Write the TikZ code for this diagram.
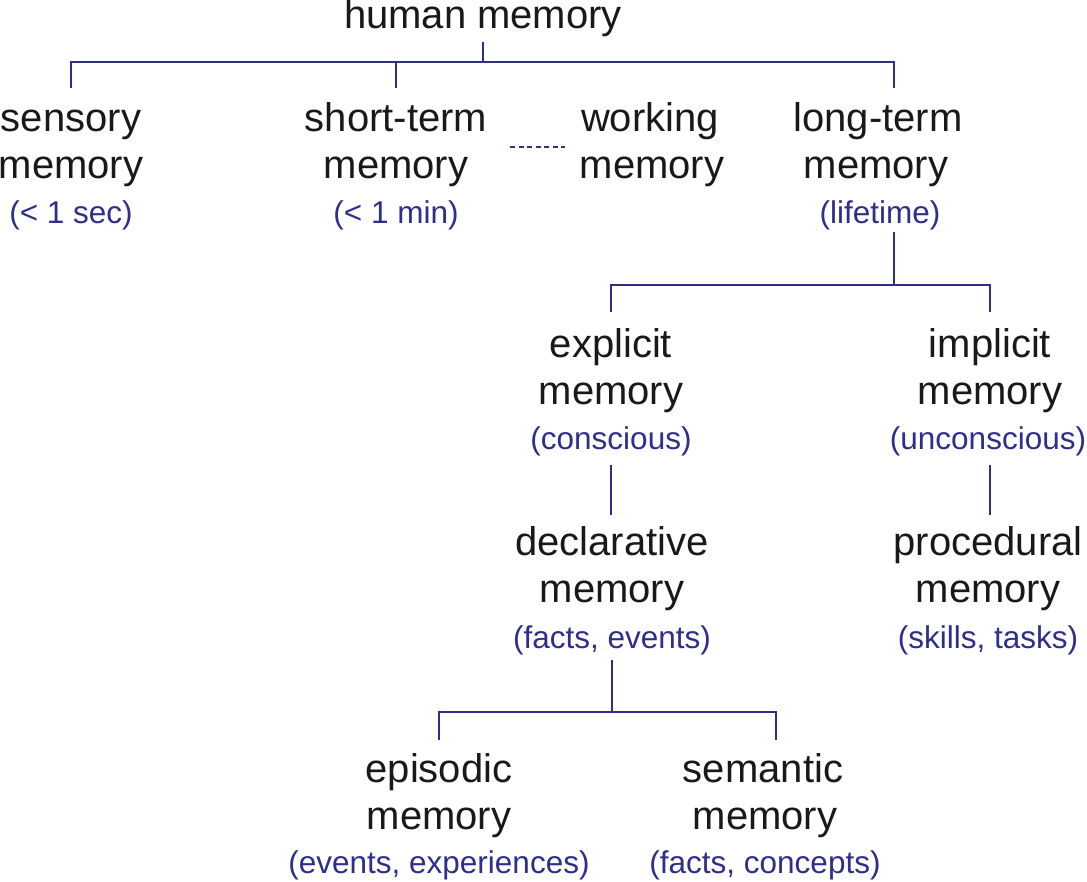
\documentclass[tikz,border=0pt]{standalone}
\usepackage{fontspec}
\setmainfont{Liberation Sans}
\definecolor{ln}{RGB}{46,46,140}
\begin{document}
\begin{tikzpicture}[x=1pt,y=-1pt,
  t/.style={font=\fontsize{40}{42}\selectfont,text=black!90,anchor=mid,inner sep=0pt,yshift=-14pt},
  s/.style={font=\fontsize{31.5}{33}\selectfont,text=ln,anchor=mid,inner sep=0pt,yshift=-11pt},
  c/.style={draw=ln,line width=2.2pt}]
\useasboundingbox (0,0) rectangle (1087,881);
\node[t] (hm) at (483,12) {human memory};
\node[t] (se1) at (71,115) {sensory}; \node[t] (se2) at (71,162) {memory}; \node[s] (se3) at (71,210) {(< 1 sec)};
\node[t] (st1) at (396,115) {short-term}; \node[t] (st2) at (396,162) {memory}; \node[s] (st3) at (396,210) {(< 1 min)};
\node[t] (wm1) at (650,115) {working}; \node[t] (wm2) at (652,162) {memory};
\node[t] (lt1) at (878,115) {long-term}; \node[t] (lt2) at (876,162) {memory}; \node[s] (lt3) at (880,210) {(lifetime)};
\node[t] (ex1) at (611,341) {explicit}; \node[t] (ex2) at (611,388) {memory}; \node[s] (ex3) at (611,436) {(conscious)};
\node[t] (im1) at (990,341) {implicit}; \node[t] (im2) at (990,388) {memory}; \node[s] (im3) at (988,436) {(unconscious)};
\node[t] (de1) at (612,539) {declarative}; \node[t] (de2) at (612,586) {memory}; \node[s] (de3) at (612,635) {(facts, events)};
\node[t] (pr1) at (988,539) {procedural}; \node[t] (pr2) at (988,586) {memory}; \node[s] (pr3) at (988,635) {(skills, tasks)};
\node[t] (ep1) at (439,766) {episodic}; \node[t] (ep2) at (439,813) {memory}; \node[s] (ep3) at (439,860) {(events, experiences)};
\node[t] (sm1) at (763,766) {semantic}; \node[t] (sm2) at (765,813) {memory}; \node[s] (sm3) at (765,860) {(facts, concepts)};
\coordinate (a) at (483,62);
\draw[c] (483,42) -- (a);
\draw[c] (71,88) -- (71,62) -- (894,62) -- (894,88);
\draw[c] (396,62) -- (396,88);
\draw[c,dash pattern=on 5pt off 3.5pt,line width=1.8pt] (510,147) -- (565,147);
\draw[c] (894,232) -- (894,285);
\draw[c] (611,312) -- (611,285) -- (990,285) -- (990,312);
\draw[c] (611,465) -- (611,515);
\draw[c] (990,465) -- (990,515);
\draw[c] (612,660) -- (612,712);
\draw[c] (439,740) -- (439,712) -- (776,712) -- (776,740);
\end{tikzpicture}
\end{document}
